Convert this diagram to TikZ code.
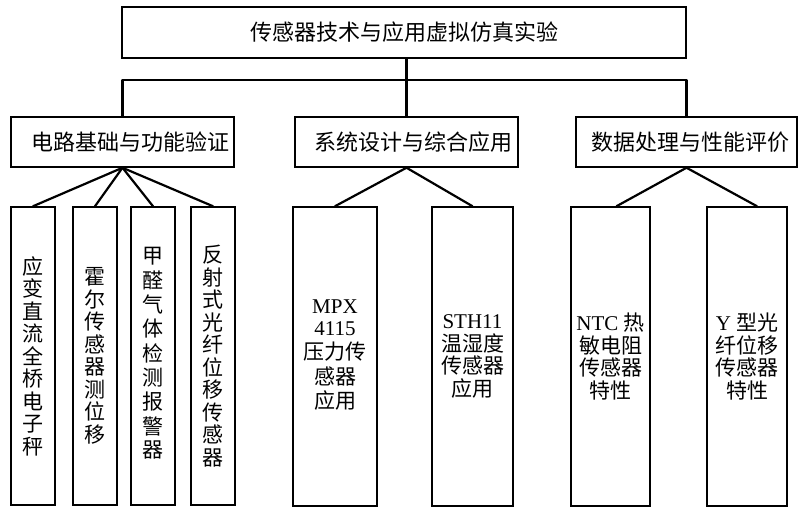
\documentclass[tikz,border=0pt]{standalone}
\usepackage{fontspec}
\setmainfont{Liberation Serif}
\newfontfamily\cjk{Noto Sans CJK SC}
\begin{document}
\begin{tikzpicture}[x=1pt,y=-1pt,
  box/.style={draw, line width=1.5pt, inner sep=0pt, align=center},
  conn/.style={line width=2.2pt, line cap=round, line join=round},
  ttl/.style={font=\fontsize{22}{24}\selectfont\cjk},
  vert/.style={box, minimum height=298pt, font=\fontsize{21}{22.5}\selectfont\cjk},
  leaf/.style={box, minimum height=299pt, font=\fontsize{21}{22.5}\selectfont}]
\useasboundingbox (0,0) rectangle (804,510);
% top
\node[box, ttl, minimum width=564pt, minimum height=51pt] (top) at (404,32.5) {传感器技术与应用虚拟仿真实验};
% level 2
\node[box, ttl, minimum width=223pt, minimum height=50pt] (A) at (122.5,142) {\hspace*{16pt}电路基础与功能验证};
\node[box, ttl, minimum width=223pt, minimum height=50pt] (B) at (406.5,142) {\hspace*{14pt}系统设计与综合应用};
\node[box, ttl, minimum width=221pt, minimum height=50pt] (C) at (686.5,142) {\hspace*{7pt}数据处理与性能评价};
\coordinate (bus) at (406.5,80);
\draw[conn] (B.north) -- (top.south -| B.north);
\draw[conn] (A.north) -- (A.north |- bus) -- (C.north |- bus) -- (C.north);
% leaves group A
\node[vert, minimum width=44pt] (l1) at (33,356) {应\\变\\直\\流\\全\\桥\\电\\子\\秤};
\node[vert, minimum width=44pt] (l2) at (95,356) {霍\\尔\\传\\感\\器\\测\\位\\移};
\node[vert, minimum width=44pt] (l3) at (153,356) {\raisebox{7pt}{\begin{tabular}{@{}c@{}}甲\\醛\\气\\体\\检\\测\\报\\警\\器\end{tabular}}};
\node[vert, minimum width=44pt] (l4) at (213,356) {反\\射\\式\\光\\纤\\位\\移\\传\\感\\器};
% leaves group B
\node[leaf, minimum width=84pt] (m1) at (335,356.5) {\raisebox{-10pt}{\begin{tabular}{@{}c@{}}MPX\\4115\\{\cjk 压力传}\\{\cjk 感器}\\{\cjk 应用}\end{tabular}}};
\node[leaf, minimum width=81pt] (m2) at (472.5,356.5) {STH11\\{\cjk 温湿度}\\{\cjk 传感器}\\{\cjk 应用}};
% leaves group C
\node[leaf, minimum width=79pt] (r1) at (610.5,356.5) {NTC {\cjk 热}\\{\cjk 敏电阻}\\{\cjk 传感器}\\{\cjk 特性}};
\node[leaf, minimum width=80pt] (r2) at (747,356.5) {Y {\cjk 型光}\\{\cjk 纤位移}\\{\cjk 传感器}\\{\cjk 特性}};
% fan connectors
\foreach \n in {l1,l2,l3,l4} \draw[conn] (A.south) -- (\n.north);
\foreach \n in {m1,m2} \draw[conn] (B.south) -- (\n.north);
\draw[conn] (C.south) -- ([xshift=6pt]r1.north);
\draw[conn] (C.south) -- ([xshift=10pt]r2.north);
\end{tikzpicture}
\end{document}
